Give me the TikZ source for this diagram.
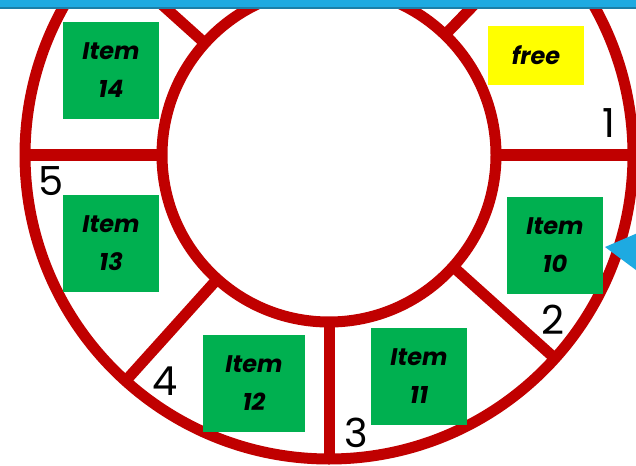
\documentclass[tikz,border=0pt]{standalone}
\usepackage{fontspec}
\setmainfont{Poppins}
\usetikzlibrary{calc}
\definecolor{ringred}{HTML}{C00000}
\definecolor{itemgreen}{HTML}{00B050}
\definecolor{freeyellow}{HTML}{FFFF00}
\definecolor{barblue}{HTML}{1EAAE1}
\definecolor{bardark}{HTML}{1B7FA8}
\tikzset{
  ring/.style={draw=ringred, line width=11pt},
  itembox/.style={fill=itemgreen, minimum width=96pt, minimum height=97pt, inner sep=0pt,
    align=center, font=\bfseries\itshape\fontsize{24}{38}\selectfont},
  freebox/.style={fill=freeyellow, minimum width=96pt, minimum height=59pt, inner sep=0pt,
    font=\bfseries\itshape\fontsize{24}{38}\selectfont},
  numlabel/.style={inner sep=0pt, font=\fontsize{40}{40}\selectfont}
}
\begin{document}
\begin{tikzpicture}[x=1pt,y=-1pt]
\useasboundingbox (0,0) rectangle (636,465);
\clip (0,0) rectangle (636,465);
\fill[white] (0,0) rectangle (636,465);
\coordinate (c) at (329,155);
% rings
\draw[ring] (c) circle[radius=304];
\draw[ring] (c) circle[radius=167];
% spokes
\foreach \a in {46,0,-42,-90,-132,180,138}{
  \draw[ring] ($(c)+(\a:167 and -167)$) -- ($(c)+(\a:304 and -304)$);
}
% boxes
\node[itembox] (i14) at (111,70.5) {Item\\14};
\node[itembox] (i13) at (111,243.5) {Item\\13};
\node[itembox] (i10) at (555,245.5) {Item\\10};
\node[itembox, minimum width=102pt] (i12) at (254,383.5) {Item\\12};
\node[itembox] (i11) at (419,376.5) {Item\\11};
\node[freebox] (free) at (536,55.5) {free};
% number labels
\node[numlabel] (n1) at (609,123) {1};
\node[numlabel] (n2) at (553,320) {2};
\node[numlabel] (n3) at (356,433) {3};
\node[numlabel] (n4) at (165,381) {4};
\node[numlabel] (n5) at (51,181) {5};
% blue pointer
\fill[barblue] (605,247) -- (640,232) -- (640,273) -- cycle;
% top bar
\fill[barblue] (-5,-5) rectangle (641,7);
\fill[bardark] (-5,7) rectangle (641,9);
\end{tikzpicture}
\end{document}
